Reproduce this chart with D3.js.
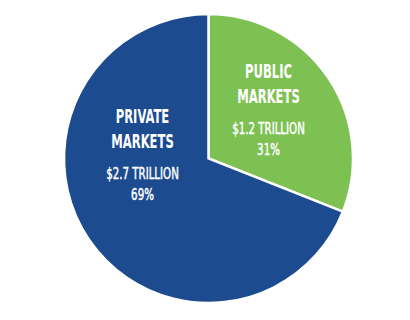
<!DOCTYPE html>
<html>
<head>
<meta charset="utf-8">
<script src="https://cdn.jsdelivr.net/npm/d3@7"></script>
<style>
  html, body { margin: 0; padding: 0; background: #fff; }
  svg { display: block; }
  .lbl { font-family: "DejaVu Sans Condensed", "DejaVu Sans", sans-serif; fill: #fff; text-anchor: middle; }
  .sub { stroke: #fff; stroke-width: 0.45; }
</style>
</head>
<body>
<svg id="chart" width="410" height="320"></svg>
<script>
const categories = ['PUBLIC MARKETS', 'PRIVATE MARKETS'];
const titleLines = [['PUBLIC', 'MARKETS'], ['PRIVATE', 'MARKETS']];
const amounts = ['$1.2 TRILLION', '$2.7 TRILLION'];
const shares = [31, 69];
const colors = ['#7dc153', '#1d4b8f'];

const svg = d3.select('#chart');
const cx = 208.5, cy = 158.5, radius = 144.5;

const pie = d3.pie().sort(null).value(d => d)(shares);
const arc = d3.arc().innerRadius(0).outerRadius(radius);

const g = svg.append('g').attr('transform', `translate(${cx},${cy})`);

g.selectAll('path.slice')
  .data(pie)
  .join('path')
  .attr('class', 'slice')
  .attr('d', arc)
  .attr('fill', (d, i) => colors[i])
  .attr('stroke', '#fff')
  .attr('stroke-width', 2.5)
  .attr('stroke-linejoin', 'miter');

// label anchor points (offset from pie centre)
const labelPos = [[60, -48], [-66, -3]];

const labels = g.selectAll('g.label')
  .data(pie)
  .join('g')
  .attr('class', 'label')
  .attr('transform', (d, i) => `translate(${labelPos[i][0]},${labelPos[i][1]})`);

// condensed look: squeeze the glyphs horizontally
labels.append('text').attr('class', 'lbl')
  .attr('transform', 'translate(0,-33) scale(0.66,1)')
  .attr('font-size', 19.5).attr('font-weight', 'bold')
  .text((d, i) => titleLines[i][0]);
labels.append('text').attr('class', 'lbl')
  .attr('transform', 'translate(0,-8) scale(0.66,1)')
  .attr('font-size', 19.5).attr('font-weight', 'bold')
  .text((d, i) => titleLines[i][1]);
labels.append('text').attr('class', 'lbl sub')
  .attr('transform', 'translate(0,23) scale(0.76,1)')
  .attr('font-size', 15)
  .text((d, i) => amounts[i]);
labels.append('text').attr('class', 'lbl sub')
  .attr('transform', 'translate(0,44) scale(0.76,1)')
  .attr('font-size', 15)
  .text((d, i) => shares[i] + '%');
</script>
</body>
</html>
